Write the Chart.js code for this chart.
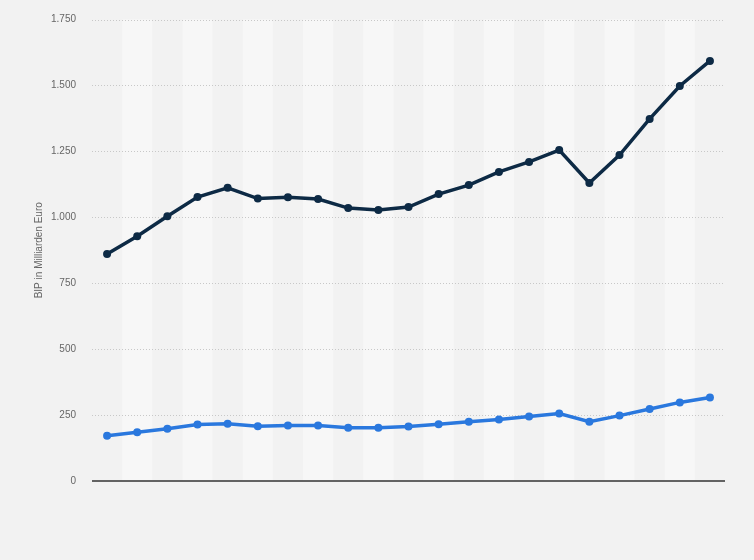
<!DOCTYPE html>
<html>
<head>
<meta charset="utf-8">
<script src="https://cdn.jsdelivr.net/npm/chart.js@4/dist/chart.umd.min.js"></script>
<style>
  html, body { margin: 0; padding: 0; background: #f2f2f2; }
  #wrap { width: 754px; height: 560px; }
</style>
</head>
<body>
<div id="wrap"><canvas id="chart"></canvas></div>
<script>
// years (not shown on the axis in the picture)
const years = ["2004","2005","2006","2007","2008","2009","2010","2011","2012","2013","2014",
               "2015","2016","2017","2018","2019","2020","2021","2022","2023","2024"];

// BIP in Milliarden Euro
const seriesDark = [861, 928, 1004, 1077, 1112, 1071, 1076, 1069, 1035, 1028, 1039,
                    1088, 1122, 1172, 1210, 1255, 1130, 1236, 1373, 1498, 1593];
const seriesBlue = [172, 185, 198, 214, 217, 208, 210, 210, 202, 202, 207,
                    215, 225, 233, 245, 256, 225, 248, 273, 298, 317];

const yTicks = [0, 250, 500, 750, 1000, 1250, 1500, 1750];

// alternating column bands behind the lines
const bandPlugin = {
    id: "bands",
    beforeDatasetsDraw(chart) {
        const ctx = chart.ctx;
        const area = chart.chartArea;
        const x = chart.scales.x;
        const step = (area.right - area.left) / years.length;
        ctx.save();
        ctx.fillStyle = "#f7f7f7";
        for (let i = 1; i < years.length; i += 2) {
            const cx = x.getPixelForValue(i);
            ctx.fillRect(cx - step / 2, area.top, step, area.bottom - area.top);
        }
        ctx.restore();
    }
};

// dotted grid after the bands so it stays visible, solid line at 0
const gridPlugin = {
    id: "dotgrid",
    beforeDatasetsDraw(chart) {
        const ctx = chart.ctx;
        const area = chart.chartArea;
        const y = chart.scales.y;
        ctx.save();
        ctx.strokeStyle = "#c8c8c8";
        ctx.lineWidth = 1;
        ctx.setLineDash([1, 2]);
        yTicks.forEach(v => {
            if (v === 0) return;
            const py = Math.round(y.getPixelForValue(v)) + 0.5;
            ctx.beginPath();
            ctx.moveTo(area.left, py);
            ctx.lineTo(area.right, py);
            ctx.stroke();
        });
        ctx.setLineDash([]);
        ctx.strokeStyle = "#333333";
        ctx.lineWidth = 1.5;
        const p0 = y.getPixelForValue(0);
        ctx.beginPath();
        ctx.moveTo(area.left, p0);
        ctx.lineTo(area.right, p0);
        ctx.stroke();
        ctx.restore();
    }
};

const ctx = document.getElementById("chart").getContext("2d");
new Chart(ctx, {
    type: "line",
    data: {
        labels: years,
        datasets: [{
            label: "Gesamt",
            data: seriesDark,
            borderColor: "#0d2a45",
            backgroundColor: "#0d2a45",
            borderWidth: 3.5,
            pointRadius: 4,
            pointBorderWidth: 0,
            pointHoverRadius: 4,
            tension: 0
        }, {
            label: "Region",
            data: seriesBlue,
            borderColor: "#2a78de",
            backgroundColor: "#2a78de",
            borderWidth: 3.5,
            pointRadius: 4,
            pointBorderWidth: 0,
            pointHoverRadius: 4,
            tension: 0
        }]
    },
    options: {
        responsive: true,
        maintainAspectRatio: false,
        animation: false,
        layout: { padding: { left: 33, right: 29, top: 19.5, bottom: 79 } },
        plugins: {
            legend: { display: false },
            tooltip: { enabled: false }
        },
        scales: {
            x: {
                offset: true,
                grid: { display: false },
                border: { display: false },
                ticks: { display: false },
                afterFit: scale => { scale.height = 0; }
            },
            y: {
                min: 0,
                max: 1750,
                afterBuildTicks: scale => { scale.ticks = yTicks.map(v => ({ value: v })); },
                afterFit: scale => {
                    scale.width = 59;
                    scale.paddingTop = 0;
                    scale.paddingBottom = 0;
                },
                grid: { display: false, drawTicks: false },
                border: { display: false },
                ticks: {
                    padding: 16,
                    color: "#666666",
                    font: { family: "Arial, 'Liberation Sans', sans-serif", size: 10 },
                    callback: v => v.toLocaleString("de-DE")
                },
                title: {
                    display: true,
                    text: "BIP in Milliarden Euro",
                    color: "#666666",
                    font: { family: "Arial, 'Liberation Sans', sans-serif", size: 10 },
                    padding: { top: 0, bottom: 0 }
                }
            }
        }
    },
    plugins: [bandPlugin, gridPlugin]
});
</script>
</body>
</html>
